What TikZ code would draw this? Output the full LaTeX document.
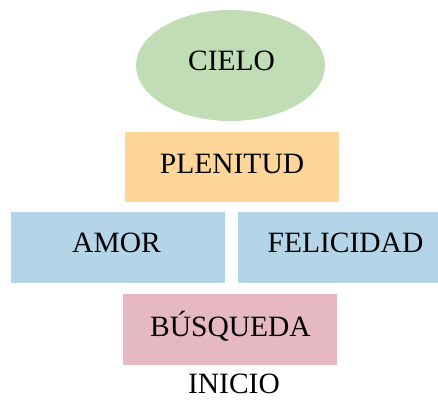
\documentclass[tikz,border=0pt]{standalone}
\usepackage{fontspec}
\setmainfont{Liberation Serif}
\definecolor{cgreen}{HTML}{C0DDB5}
\definecolor{cpeach}{HTML}{FFD699}
\definecolor{cblue}{HTML}{B4D4E8}
\definecolor{cpink}{HTML}{E6B8C1}
\begin{document}
\begin{tikzpicture}[x=1pt,y=1pt,
  lbl/.style={anchor=base,inner sep=0pt,font=\fontsize{29.5}{32}\selectfont,text=black}]
\useasboundingbox (0,0) rectangle (438,400);
\fill[cgreen] (230.5,334.5) ellipse [x radius=94.5,y radius=55.5];
\fill[cpeach] (125,198) rectangle (339,268);
\fill[cblue] (11,117) rectangle (225,188);
\fill[cblue] (238,117) rectangle (438,188);
\fill[cpink] (123,35) rectangle (337,106);
\node[lbl] (cielo) at (231.5,330) {CIELO};
\node[lbl] (plenitud) at (232,227) {PLENITUD};
\node[lbl] (amor) at (116.5,148) {AMOR};
\node[lbl] (felicidad) at (345.5,148) {FELICIDAD};
\node[lbl] (busqueda) at (230.5,64) {BÚSQUEDA};
\node[lbl] (inicio) at (234,7) {INICIO};
\end{tikzpicture}
\end{document}
